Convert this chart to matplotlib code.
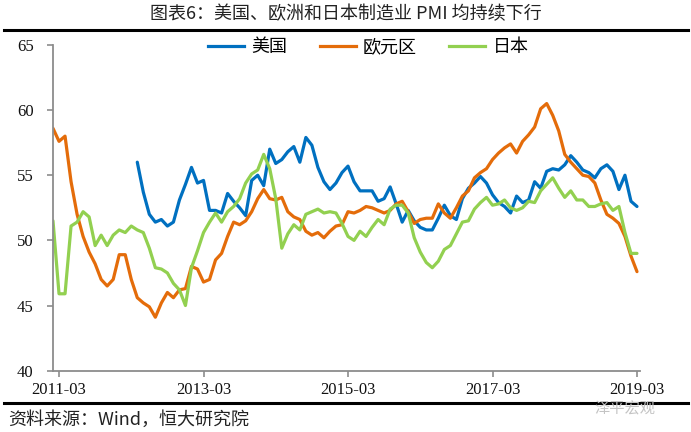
import numpy as np
import pandas as pd
import matplotlib
matplotlib.use('Agg')
import matplotlib.pyplot as plt
from matplotlib.lines import Line2D

plt.rcParams['font.family'] = ['Noto Sans CJK SC', 'DejaVu Sans']

# monthly PMI, 2011-02 .. 2019-03
months = [str(p) for p in pd.period_range('2011-02', '2019-03', freq='M')]

euro = [58.6, 57.6, 58.0, 54.5, 52.0, 50.3, 49.1, 48.2, 47.0, 46.5,
        47.0, 48.9, 48.9, 47.0, 45.6, 45.2, 44.9, 44.1, 45.2, 46.0,
        45.6, 46.2, 46.3, 48.0, 47.8, 46.8, 47.0, 48.5, 49.0, 50.3,
        51.4, 51.2, 51.5, 52.2, 53.2, 53.9, 53.2, 53.1, 53.3, 52.2,
        51.8, 51.6, 50.7, 50.4, 50.6, 50.2, 50.7, 51.1, 51.2, 52.2,
        52.1, 52.3, 52.6, 52.5, 52.3, 52.1, 52.3, 52.8, 53.0, 52.2,
        51.3, 51.6, 51.7, 51.7, 52.8, 52.1, 51.7, 52.5, 53.4, 53.8,
        54.8, 55.2, 55.5, 56.2, 56.7, 57.1, 57.4, 56.7, 57.6, 58.1,
        58.7, 60.1, 60.5, 59.6, 58.4, 56.6, 56.0, 55.5, 55.0, 54.9,
        54.4, 53.1, 52.0, 51.7, 51.3, 50.3, 48.8, 47.6]

# US series starts 2012-04
us_start = '2012-04'
us = [56.0, 53.7, 52.0, 51.4, 51.6, 51.1, 51.4, 53.1, 54.3, 55.6,
      54.4, 54.6, 52.3, 52.3, 52.1, 53.6, 53.0, 52.5, 51.9, 54.6,
      55.0, 54.2, 57.0, 55.9, 56.2, 56.8, 57.2, 56.0, 57.9, 57.3,
      55.6, 54.5, 53.9, 54.4, 55.2, 55.7, 54.5, 53.8, 53.8, 53.8,
      53.0, 53.2, 54.1, 52.8, 51.4, 52.3, 51.5, 51.0, 50.8, 50.8,
      51.7, 52.7, 51.9, 51.6, 53.2, 54.0, 54.4, 54.9, 54.4, 53.5,
      52.9, 52.6, 52.1, 53.4, 52.9, 53.1, 54.5, 54.0, 55.3, 55.5,
      55.4, 55.8, 56.5, 56.0, 55.4, 55.2, 54.8, 55.5, 55.8, 55.3,
      53.9, 55.0, 53.0, 52.6]

japan = [51.5, 45.9, 45.9, 51.1, 51.4, 52.2, 51.8, 49.6, 50.4, 49.6,
         50.4, 50.8, 50.6, 51.1, 50.8, 50.6, 49.4, 47.9, 47.8, 47.5,
         46.7, 46.2, 45.0, 47.9, 49.2, 50.6, 51.4, 52.1, 51.4, 52.2,
         52.6, 53.2, 54.4, 55.1, 55.4, 56.6, 55.5, 53.2, 49.4, 50.5,
         51.2, 50.8, 52.0, 52.2, 52.4, 52.1, 52.2, 52.1, 51.3, 50.3,
         50.0, 50.7, 50.3, 51.0, 51.6, 51.2, 52.4, 52.7, 52.7, 52.1,
         50.2, 49.1, 48.3, 47.9, 48.4, 49.3, 49.6, 50.5, 51.4, 51.5,
         52.4, 52.9, 53.3, 52.7, 52.8, 53.1, 52.5, 52.3, 52.5, 53.0,
         52.9, 53.8, 54.3, 54.8, 54.0, 53.3, 53.8, 53.1, 53.1, 52.6,
         52.6, 52.8, 52.9, 52.3, 52.6, 50.6, 49.0, 49.0]

tick_labels = ['2011-03', '2013-03', '2015-03', '2017-03', '2019-03']
series_names = ['美国', '欧元区', '日本']
colors = ['#0070C0', '#E46C0A', '#92D050']

x = np.arange(len(months))
x_us = np.arange(months.index(us_start), months.index(us_start) + len(us))

fig = plt.figure(figsize=(6.91, 4.32), dpi=100)
ax = fig.add_axes([0.0767, 0.142, 0.8495, 0.754])

lw = 2.3
ax.plot(x_us, us, color=colors[0], lw=lw, solid_joinstyle='round', solid_capstyle='round')
ax.plot(x, euro, color=colors[1], lw=lw, solid_joinstyle='round', solid_capstyle='round')
ax.plot(x, japan, color=colors[2], lw=lw, solid_joinstyle='round', solid_capstyle='round')

ax.set_xlim(0, 97.5)
ax.set_ylim(40, 65)
ax.set_yticks(np.arange(40, 66, 5))
ax.set_xticks([months.index(t) for t in tick_labels])
ax.set_xticklabels(tick_labels)

for s in ['top', 'right']:
    ax.spines[s].set_visible(False)
for s in ['left', 'bottom']:
    ax.spines[s].set_color('#8c8c8c')
    ax.spines[s].set_linewidth(1.3)
ax.tick_params(axis='y', direction='out', length=4, width=1.2, color='#8c8c8c', pad=10,
               labelsize=12, labelcolor='#111111', labelfontfamily='Liberation Serif')
ax.tick_params(axis='x', direction='out', length=4, width=1.2, color='#8c8c8c', pad=4,
               labelsize=12, labelcolor='#111111', labelfontfamily='Liberation Serif')

handles = [Line2D([], [], color=c, lw=lw) for c in colors]
ax.legend(handles, series_names, loc='center', bbox_to_anchor=(0.537, 0.994),
          ncol=3, frameon=False, fontsize=13, handlelength=2.0,
          handletextpad=0.4, columnspacing=1.8)

# title, rules, source
fig.text(0.5, 1 - 14 / 432, '图表6：美国、欧洲和日本制造业 PMI 均持续下行',
         ha='center', va='center', fontsize=13, color='#222222')
fig.add_artist(Line2D([4 / 691, 688 / 691], [1 - 30 / 432] * 2, color='black', lw=2.2))
fig.add_artist(Line2D([4 / 691, 688 / 691], [1 - 403 / 432] * 2, color='black', lw=2.2))
fig.text(8 / 691, 1 - 420 / 432, '资料来源：Wind，恒大研究院',
         ha='left', va='center', fontsize=13, style='italic', color='#222222')
fig.text(0.905, 1 - 409 / 432, '泽平宏观', ha='center', va='center',
         fontsize=11, color='#c4c4c4')

fig.savefig('out.png', dpi=100)
